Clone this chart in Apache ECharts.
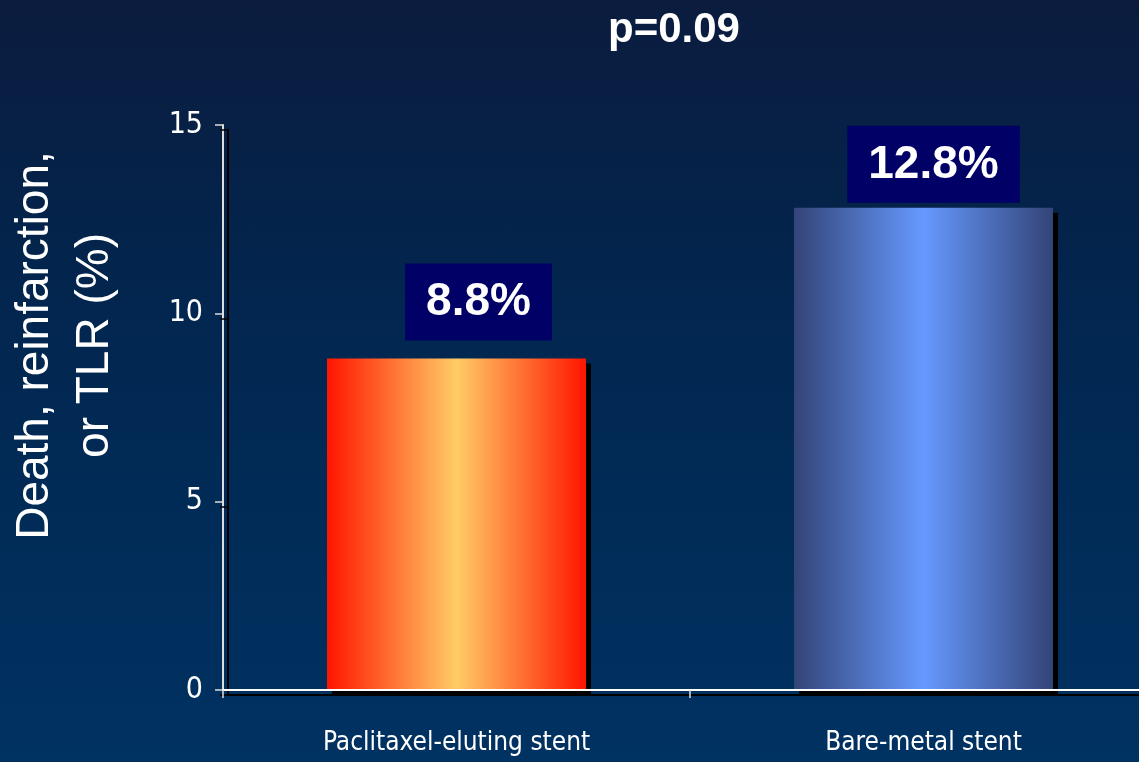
<!DOCTYPE html>
<html>
<head>
<meta charset="utf-8">
<script src="https://cdn.jsdelivr.net/npm/echarts@6/dist/echarts.min.js"></script>
<style>
html,body{margin:0;padding:0;}
#c{width:1139px;height:762px;background:linear-gradient(to bottom,#0b1c3e 0%,#02264f 40%,#003262 100%);}
</style>
</head>
<body>
<div id="c"></div>
<script>
const categories = ['Paclitaxel-eluting stent', 'Bare-metal stent'];
const values = [8.8, 12.8];
const labelDistances = [18, 5];
const labelShiftX = [22, 10];
const yMin = 0, yMax = 15, yInterval = 5;
const titleText = 'p=0.09';
const yAxisName = 'Death, reinfarction,\nor TLR (%)';

const narrowFont = "'DejaVu Sans Condensed', 'Liberation Sans Narrow', 'Liberation Sans', sans-serif";
const mainFont = "'Liberation Sans', Arial, sans-serif";

const barGradients = [
  new echarts.graphic.LinearGradient(0, 0, 1, 0, [
    {offset: 0, color: '#ff1500'},
    {offset: 0.5, color: '#ffcc66'},
    {offset: 1, color: '#ff1500'}
  ]),
  new echarts.graphic.LinearGradient(0, 0, 1, 0, [
    {offset: 0, color: '#334477'},
    {offset: 0.5, color: '#6699ff'},
    {offset: 1, color: '#334477'}
  ])
];

const chart = echarts.init(document.getElementById('c'), null, {renderer: 'canvas'});
chart.setOption({
  backgroundColor: 'transparent',
  animation: false,
  title: {
    text: titleText,
    left: 669,
    top: 4,
    textAlign: 'center',
    textStyle: {
      color: '#ffffff', fontSize: 42, fontWeight: 'bold', fontFamily: mainFont,
      textShadowColor: '#000', textShadowOffsetX: 2, textShadowOffsetY: 2, textShadowBlur: 0
    }
  },
  grid: {left: 223, top: 125, height: 565, width: 934, containLabel: false, outerBoundsMode: 'none'},
  xAxis: {
    type: 'category',
    data: categories,
    z: 5,
    axisLine: {lineStyle: {color: '#ffffff', width: 2, shadowColor: '#000', shadowOffsetX: 5, shadowOffsetY: 5}},
    axisTick: {show: true, length: 8, lineStyle: {color: '#dddddd', width: 1.5}},
    axisLabel: {
      color: '#ffffff', fontSize: 26, fontFamily: narrowFont, margin: 40,
      textShadowColor: '#000', textShadowOffsetX: 5, textShadowOffsetY: 5, textShadowBlur: 0
    }
  },
  yAxis: {
    type: 'value',
    min: yMin, max: yMax, interval: yInterval,
    z: 5,
    name: yAxisName,
    nameLocation: 'middle',
    nameRotate: 90,
    nameGap: 98,
    nameTextStyle: {
      color: '#ffffff', fontSize: 46, lineHeight: 60, fontFamily: mainFont,
      padding: [0, 0, 0, 124],
      textShadowColor: 'rgba(0,0,0,0.7)', textShadowOffsetX: 2, textShadowOffsetY: 2, textShadowBlur: 0
    },
    splitLine: {show: false},
    axisLine: {show: true, lineStyle: {color: '#dddddd', width: 2, shadowColor: '#000', shadowOffsetX: 5, shadowOffsetY: 5}},
    axisTick: {show: true, length: 8, lineStyle: {color: '#dddddd', width: 1.5, shadowColor: '#000', shadowOffsetX: 5, shadowOffsetY: 5}},
    axisLabel: {
      color: '#ffffff', fontSize: 30, fontFamily: narrowFont, margin: 20,
      textShadowColor: '#000', textShadowOffsetX: 5, textShadowOffsetY: 5, textShadowBlur: 0
    }
  },
  series: [{
    type: 'bar',
    barWidth: 259,
    data: values.map((v, i) => ({
      value: v,
      itemStyle: {color: barGradients[i]},
      label: {distance: labelDistances[i], offset: [labelShiftX[i], 0]}
    })),
    itemStyle: {shadowColor: '#000', shadowOffsetX: 5, shadowOffsetY: 5, shadowBlur: 0},
    label: {
      show: true,
      position: 'top',
      formatter: '{c}%',
      color: '#ffffff',
      fontSize: 46,
      fontWeight: 'bold',
      fontFamily: mainFont,
      lineHeight: 48,
      backgroundColor: '#000066',
      padding: [15, 21, 14, 21]
    }
  }]
});
</script>
</body>
</html>
